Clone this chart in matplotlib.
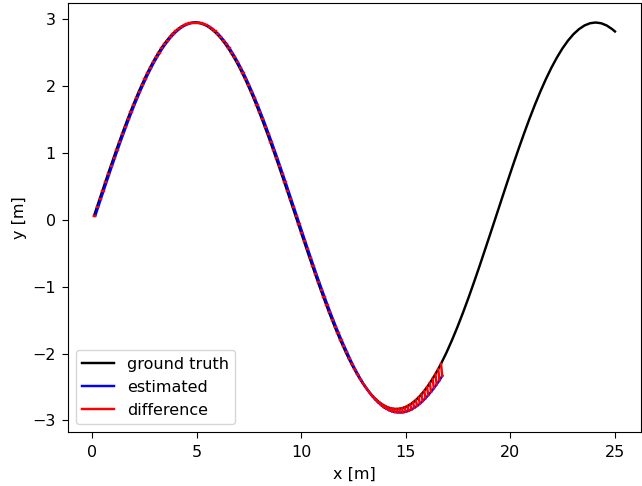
import matplotlib
matplotlib.use("Agg")
import matplotlib.pyplot as plt

plt.rcParams['font.size'] = 11.5
plt.rcParams['lines.linewidth'] = 1.75
plt.rcParams['xtick.major.size'] = 4.2
plt.rcParams['ytick.major.size'] = 4.2
plt.rcParams['xtick.major.pad'] = 5
plt.rcParams['ytick.major.pad'] = 4.5

# ground truth trajectory
x_true = [0.100, 0.234, 0.368, 0.501, 0.635, 0.769, 0.903, 1.036, 1.170, 1.304,
          1.438, 1.571, 1.705, 1.839, 1.973, 2.106, 2.240, 2.374, 2.508, 2.641,
          2.775, 2.909, 3.043, 3.176, 3.310, 3.444, 3.578, 3.711, 3.845, 3.979,
          4.113, 4.246, 4.380, 4.514, 4.648, 4.781, 4.915, 5.049, 5.183, 5.316,
          5.450, 5.584, 5.718, 5.851, 5.985, 6.119, 6.253, 6.386, 6.520, 6.654,
          6.788, 6.921, 7.055, 7.189, 7.323, 7.456, 7.590, 7.724, 7.858, 7.991,
          8.125, 8.259, 8.393, 8.526, 8.660, 8.794, 8.928, 9.061, 9.195, 9.329,
          9.463, 9.596, 9.730, 9.864, 9.998, 10.131, 10.265, 10.399, 10.533, 10.666,
          10.800, 10.934, 11.068, 11.201, 11.335, 11.469, 11.603, 11.736, 11.870, 12.004,
          12.138, 12.271, 12.405, 12.539, 12.673, 12.806, 12.940, 13.074, 13.208, 13.341,
          13.475, 13.609, 13.743, 13.876, 14.010, 14.144, 14.278, 14.411, 14.545, 14.679,
          14.813, 14.946, 15.080, 15.214, 15.348, 15.481, 15.615, 15.749, 15.883, 16.016,
          16.150, 16.284, 16.418, 16.551, 16.685,
          16.949, 17.213, 17.477, 17.741, 18.005, 18.268, 18.532, 18.796, 19.060, 19.324,
          19.588, 19.852, 20.116, 20.380, 20.644, 20.907, 21.171, 21.435, 21.699, 21.963,
          22.227, 22.491, 22.755, 23.019, 23.283, 23.546, 23.810, 24.074, 24.338, 24.602,
          24.866, 25.000]
y_true = [0.060, 0.186, 0.312, 0.437, 0.562, 0.686, 0.808, 0.929, 1.048, 1.166,
          1.281, 1.394, 1.505, 1.613, 1.718, 1.819, 1.918, 2.012, 2.104, 2.191,
          2.274, 2.353, 2.427, 2.497, 2.563, 2.623, 2.679, 2.730, 2.776, 2.816,
          2.851, 2.882, 2.906, 2.925, 2.939, 2.947, 2.950, 2.947, 2.939, 2.925,
          2.906, 2.882, 2.851, 2.816, 2.776, 2.730, 2.679, 2.623, 2.563, 2.497,
          2.427, 2.353, 2.274, 2.191, 2.104, 2.012, 1.918, 1.819, 1.718, 1.613,
          1.505, 1.394, 1.281, 1.166, 1.048, 0.929, 0.808, 0.686, 0.562, 0.437,
          0.312, 0.186, 0.060, -0.066, -0.192, -0.317, -0.442, -0.566, -0.688, -0.809,
          -0.928, -1.046, -1.161, -1.274, -1.385, -1.493, -1.598, -1.699, -1.798, -1.892,
          -1.984, -2.071, -2.154, -2.233, -2.307, -2.377, -2.443, -2.503, -2.559, -2.610,
          -2.656, -2.696, -2.731, -2.762, -2.786, -2.805, -2.819, -2.827, -2.830, -2.827,
          -2.819, -2.805, -2.786, -2.762, -2.731, -2.696, -2.656, -2.610, -2.559, -2.503,
          -2.443, -2.377, -2.307, -2.233, -2.154,
          -1.984, -1.798, -1.598, -1.385, -1.161, -0.928, -0.688, -0.442, -0.192, 0.060,
          0.312, 0.562, 0.808, 1.048, 1.281, 1.505, 1.718, 1.918, 2.104, 2.274,
          2.427, 2.563, 2.679, 2.776, 2.851, 2.906, 2.939, 2.950, 2.939, 2.906,
          2.851, 2.816]

# estimated trajectory, same time steps, stops early
x_est = [0.160, 0.294, 0.428, 0.561, 0.695, 0.829, 0.963, 1.096, 1.230, 1.364,
         1.498, 1.631, 1.765, 1.899, 2.033, 2.166, 2.300, 2.434, 2.568, 2.701,
         2.835, 2.969, 3.103, 3.236, 3.370, 3.504, 3.638, 3.771, 3.905, 4.039,
         4.173, 4.306, 4.440, 4.574, 4.708, 4.841, 4.975, 5.109, 5.243, 5.376,
         5.510, 5.644, 5.778, 5.911, 6.045, 6.179, 6.313, 6.446, 6.580, 6.714,
         6.848, 6.981, 7.115, 7.249, 7.383, 7.516, 7.650, 7.784, 7.918, 8.051,
         8.185, 8.319, 8.453, 8.586, 8.720, 8.854, 8.988, 9.121, 9.255, 9.389,
         9.523, 9.656, 9.790, 9.924, 10.058, 10.191, 10.325, 10.459, 10.593, 10.726,
         10.860, 10.994, 11.128, 11.261, 11.395, 11.529, 11.663, 11.796, 11.930, 12.064,
         12.198, 12.331, 12.465, 12.599, 12.733, 12.866, 13.000, 13.134, 13.268, 13.401,
         13.535, 13.669, 13.803, 13.936, 14.070, 14.204, 14.338, 14.471, 14.605, 14.739,
         14.873, 15.006, 15.140, 15.274, 15.408, 15.541, 15.675, 15.809, 15.943, 16.076,
         16.210, 16.344, 16.478, 16.611, 16.745]
y_est = y_true[:91] + [
         -2.076, -2.164, -2.245, -2.322, -2.395, -2.463, -2.525, -2.584, -2.638,
         -2.686, -2.728, -2.766, -2.800, -2.826, -2.847, -2.864, -2.875, -2.880, -2.882,
         -2.879, -2.870, -2.856, -2.837, -2.811, -2.784, -2.751, -2.712, -2.669, -2.623,
         -2.573, -2.519, -2.462, -2.401, -2.334]

fig = plt.figure(figsize=(6.42, 4.86), dpi=100)
ax = fig.add_axes([68 / 642, 54 / 486, 573 / 642, 429 / 486])

ax.plot(x_true, y_true, color='black', label='ground truth')
ax.plot(x_est, y_est, color='blue', label='estimated')

# red lines joining each estimate to its ground truth point
for i in range(len(x_est)):
    lbl = 'difference' if i == 0 else None
    ax.plot([x_true[i], x_est[i]], [y_true[i], y_est[i]], color='red', label=lbl)

ax.set_xlabel("x [m]", labelpad=5)
ax.set_ylabel("y [m]")
ax.legend(loc='lower left')

fig.savefig("out.png", dpi=100)
